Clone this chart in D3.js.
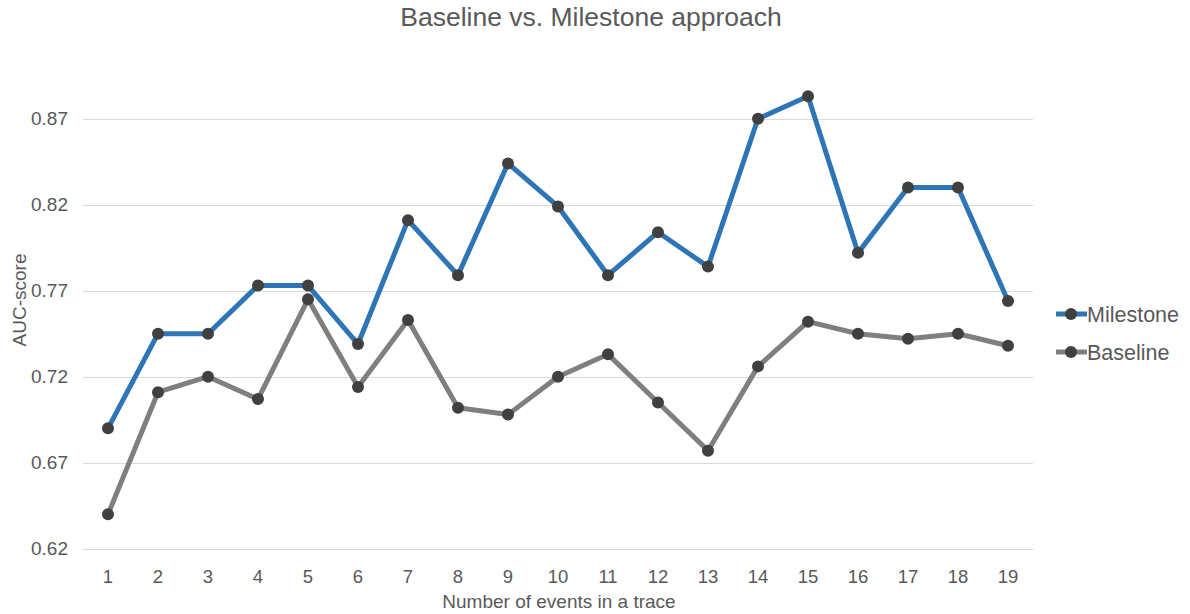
<!DOCTYPE html>
<html>
<head>
<meta charset="utf-8">
<script src="https://cdn.jsdelivr.net/npm/d3@7"></script>
<style>
  html, body { margin: 0; padding: 0; background: #fff; }
  svg { display: block; font-family: "Liberation Sans", Arial, Helvetica, sans-serif; }
</style>
</head>
<body>
<svg id="chart" width="1190" height="614"></svg>
<script>
// Number of events in a trace (x categories)
const events = ["1","2","3","4","5","6","7","8","9","10","11","12","13","14","15","16","17","18","19"];
// AUC-scores per approach
const milestone = [0.690, 0.745, 0.745, 0.773, 0.773, 0.739, 0.811, 0.779, 0.844, 0.819, 0.779, 0.804, 0.784, 0.870, 0.883, 0.792, 0.830, 0.830, 0.764];
const baseline  = [0.640, 0.711, 0.720, 0.707, 0.765, 0.714, 0.753, 0.702, 0.698, 0.720, 0.733, 0.705, 0.677, 0.726, 0.752, 0.745, 0.742, 0.745, 0.738];
const yTicks = [0.62, 0.67, 0.72, 0.77, 0.82, 0.87];

const seriesList = [
  { name: "Milestone", values: milestone, color: "#2E75B6" },
  { name: "Baseline",  values: baseline,  color: "#7F7F7F" }
];

const svg = d3.select("#chart");
const plot = { left: 83, right: 1033, top: 84.3, bottom: 548.7 };
const textColor = "#595959";
const fontFamily = "'Liberation Sans', Arial, sans-serif";

const x = d3.scaleBand().domain(events).range([plot.left, plot.right]).padding(0);
const y = d3.scaleLinear().domain([0.62, 0.89]).range([plot.bottom, plot.top]);

// Title
svg.append("text")
  .attr("x", 591).attr("y", 26)
  .attr("text-anchor", "middle")
  .attr("fill", textColor)
  .style("font-size", "26.5px")
  .text("Baseline vs. Milestone approach");

// Horizontal gridlines
svg.append("g")
  .selectAll("line")
  .data(yTicks)
  .join("line")
  .attr("x1", plot.left).attr("x2", plot.right)
  .attr("y1", d => Math.round(y(d)) + 0.5).attr("y2", d => Math.round(y(d)) + 0.5)
  .attr("stroke", "#D9D9D9").attr("stroke-width", 1);

// Y axis labels
const yAxis = d3.axisLeft(y).tickValues(yTicks).tickFormat(d3.format(".2f")).tickSize(0).tickPadding(15);
const gy = svg.append("g").attr("transform", `translate(${plot.left},0)`).call(yAxis);
gy.select(".domain").remove();
gy.selectAll("text").attr("fill", textColor).style("font-size", "19px")
  .style("font-family", fontFamily);

// X axis labels
const xAxis = d3.axisBottom(x).tickSize(0).tickPadding(21);
const gx = svg.append("g").attr("transform", `translate(0,${plot.bottom})`).call(xAxis);
gx.select(".domain").remove();
gx.selectAll("text").attr("fill", textColor).style("font-size", "18.5px")
  .style("font-family", fontFamily);

// Axis titles
svg.append("text")
  .attr("x", 559).attr("y", 608)
  .attr("text-anchor", "middle")
  .attr("fill", textColor)
  .style("font-size", "19px")
  .text("Number of events in a trace");

svg.append("text")
  .attr("transform", "translate(26,300) rotate(-90)")
  .attr("text-anchor", "middle")
  .attr("fill", textColor)
  .style("font-size", "19px")
  .text("AUC-score");

// Lines and markers
const line = d3.line()
  .x((d, i) => x(events[i]) + x.bandwidth() / 2)
  .y(d => y(d));

seriesList.slice().reverse().forEach(s => {
  svg.append("path")
    .datum(s.values)
    .attr("d", line)
    .attr("fill", "none")
    .attr("stroke", s.color)
    .attr("stroke-width", 5)
    .attr("stroke-linejoin", "round");
});
seriesList.slice().reverse().forEach(s => {
  svg.append("g")
    .selectAll("circle")
    .data(s.values)
    .join("circle")
    .attr("cx", (d, i) => x(events[i]) + x.bandwidth() / 2)
    .attr("cy", d => y(d))
    .attr("r", 6)
    .attr("fill", "#404040");
});

// Legend
const legend = svg.append("g").attr("transform", "translate(1056,314)");
seriesList.forEach((s, i) => {
  const g = legend.append("g").attr("transform", `translate(0,${i * 38})`);
  g.append("line").attr("x1", 0).attr("x2", 31).attr("y1", 0).attr("y2", 0)
    .attr("stroke", s.color).attr("stroke-width", 5);
  g.append("circle").attr("cx", 15).attr("cy", 0).attr("r", 6).attr("fill", "#404040");
  g.append("text").attr("x", 31).attr("y", 7.5)
    .attr("fill", textColor).style("font-size", "21.5px").text(s.name);
});
</script>
</body>
</html>
